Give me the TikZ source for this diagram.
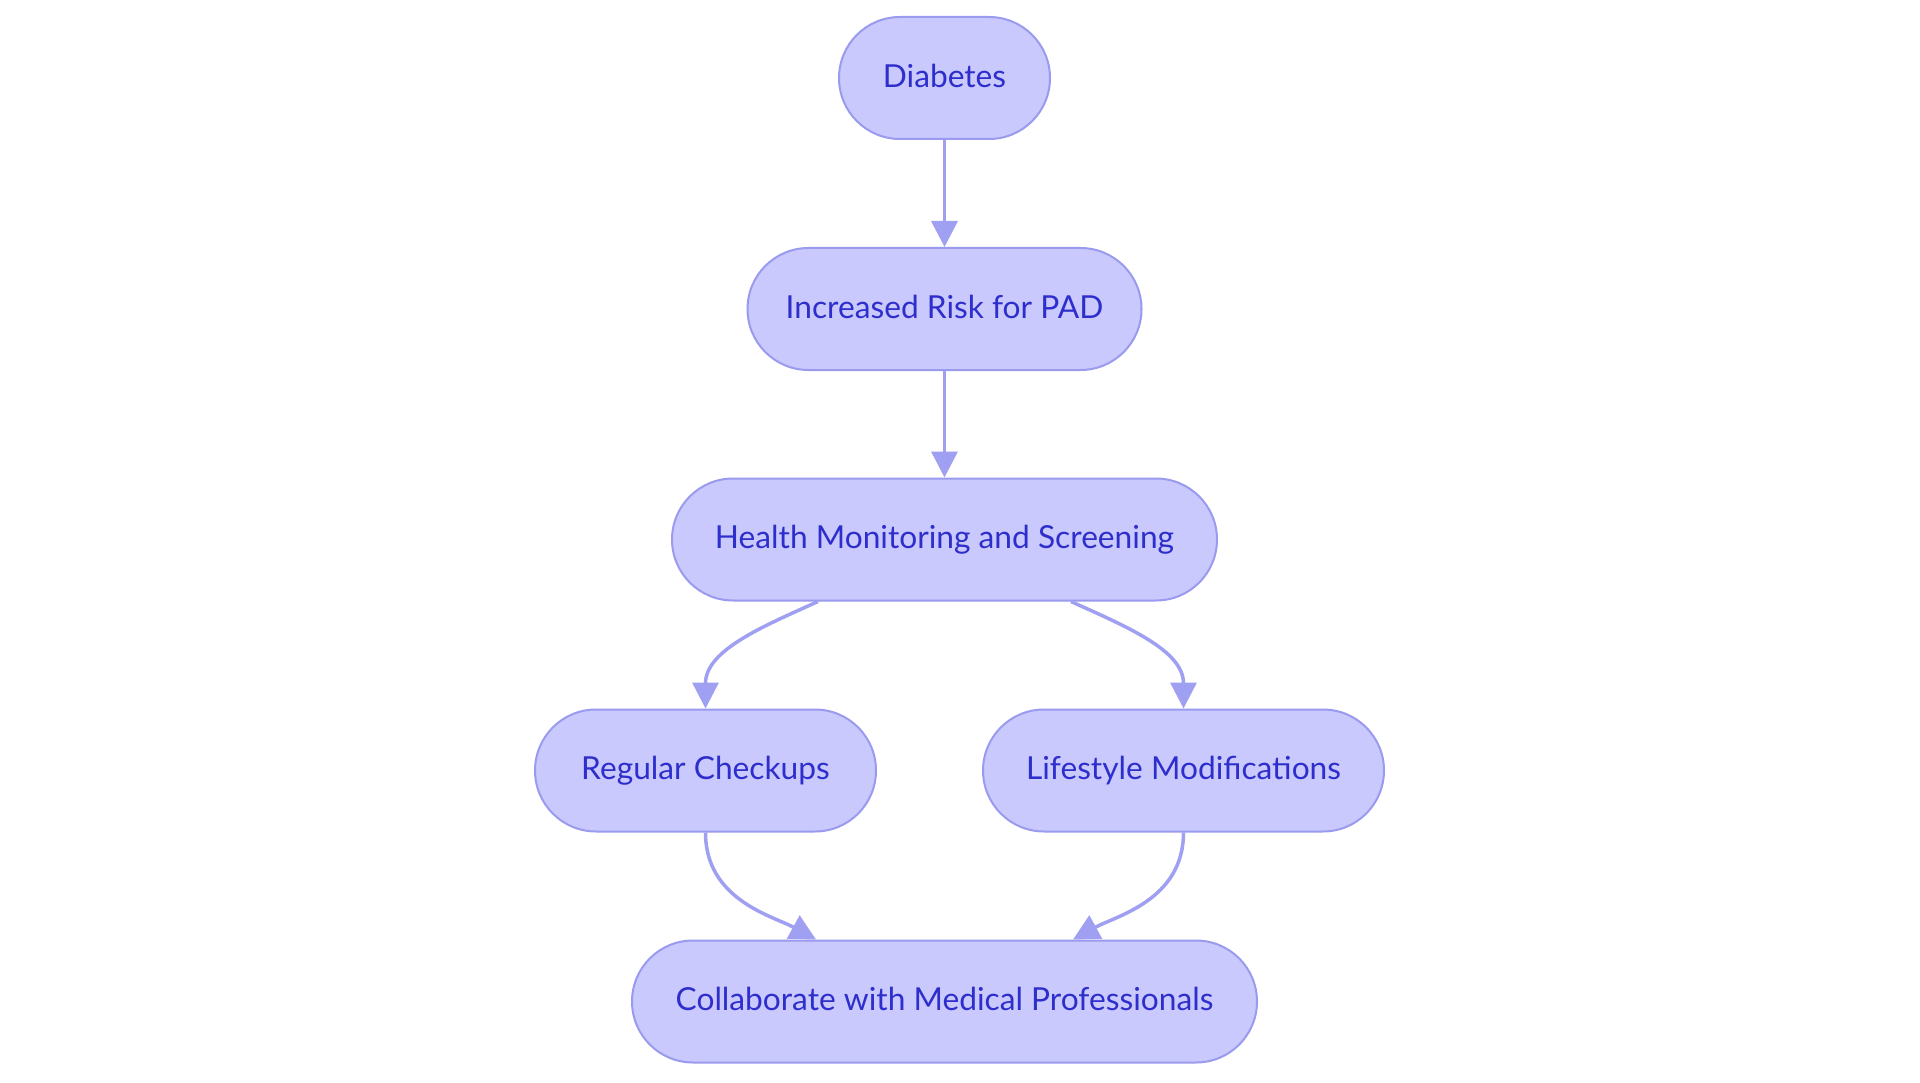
\documentclass[tikz,border=0pt]{standalone}
\usepackage{fontspec}
\setmainfont{Lato}
\usetikzlibrary{arrows.meta}
\definecolor{nodefill}{HTML}{C9C9FD}
\definecolor{nodeline}{HTML}{9A9AEE}
\definecolor{edgecol}{HTML}{9FA0F2}
\definecolor{textcol}{HTML}{2E2ECC}
\tikzset{
  stadium/.style={draw=nodeline, fill=nodefill, line width=2pt,
    rounded corners=61pt, minimum height=122pt, inner sep=0pt,
    text=textcol, font=\fontsize{31.7}{38}\selectfont,
    text height=22.5pt, text depth=4pt},
  edge/.style={draw=edgecol, line width=3.5pt,
    -{Triangle[length=26pt,width=26pt]}}
}
\begin{document}
\begin{tikzpicture}[x=1pt,y=-1pt]
\useasboundingbox (0,0) rectangle (1920,1083);
\fill[white] (0,0) rectangle (1920,1083);
\node[stadium, minimum width=211pt] (D) at (944.5,78) {Diabetes};
\node[stadium, minimum width=394pt] (I) at (944.5,309) {Increased Risk for PAD};
\node[stadium, minimum width=545pt] (H) at (944.5,539.5) {Health Monitoring and Screening};
\node[stadium, minimum width=341pt] (R) at (705.5,770.5) {Regular Checkups};
\node[stadium, minimum width=401pt] (L) at (1183.5,770.5) {Lifestyle Modifications};
\node[stadium, minimum width=625pt] (C) at (944.5,1001.5) {Collaborate with Medical Professionals};
\draw[edge] (D.south) -- (I.north);
\draw[edge] (I.south) -- (H.north);
\draw[edge] ([xshift=-126.5pt]H.south) .. controls (764,626) and (705.5,650) .. (R.north);
\draw[edge] ([xshift=126.5pt]H.south) .. controls (1125,626) and (1183.5,650) .. (L.north);
\draw[edge] (R.south) .. controls (705.5,900) and (773,916) .. ([xshift=-128.5pt]C.north);
\draw[edge] (L.south) .. controls (1183.5,900) and (1116,916) .. ([xshift=128.5pt]C.north);
\end{tikzpicture}
\end{document}
